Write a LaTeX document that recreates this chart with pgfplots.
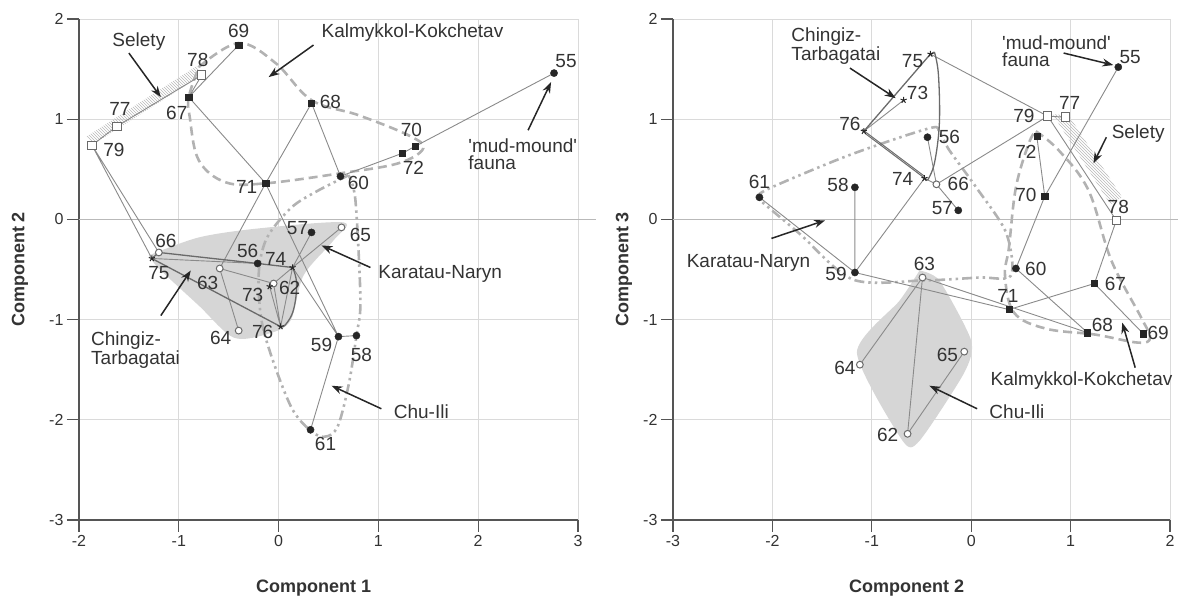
\documentclass[border=0pt]{standalone}
\usepackage{pgfplots}
\pgfplotsset{compat=1.18}
\usepackage{fontspec}
\setmainfont{Liberation Sans}
\usetikzlibrary{arrows.meta,patterns}

\definecolor{txt}{HTML}{333333}
\definecolor{ln}{HTML}{8A8A8A}
\definecolor{grd}{HTML}{DADADA}
\definecolor{hullc}{HTML}{B2B2B2}
\definecolor{fillg}{HTML}{D6D6D6}
\definecolor{dk}{HTML}{6A6A6A}
\definecolor{axc}{HTML}{555555}

\pgfplotsset{
  base/.style={
    scale only axis, height=501pt,
    ymin=-3, ymax=2, ytick={-3,-2,-1,0,1,2},
    axis x line*=bottom, axis y line*=left,
    axis line style={axc, line width=1.5pt},
    tick style={axc, line width=1.2pt},
    tick align=outside, major tick length=12pt,
    grid=major, major grid style={grd, line width=0.8pt},
    tick label style={font=\fontsize{16}{16}\selectfont, text=txt},
    /pgf/number format/assume math mode=true,
    every axis x label/.style={at={(axis description cs:0.47,0)}, anchor=center, yshift=-68pt,
       font=\bfseries\fontsize{18}{18}\selectfont, text=txt},
    clip=false,
  },
  seg/.style={ln, line width=0.9pt, mark=none, unbounded coords=jump},
  dkh/.style={dk, line width=1.3pt, mark=none},
  kal/.style={hullc, line width=2.6pt, dash pattern=on 9pt off 5pt, mark=none, smooth, tension=0.6},
  dd/.style={hullc, line width=2.6pt, dash pattern=on 10pt off 4pt on 2.5pt off 4pt on 2.5pt off 4pt, mark=none, smooth, tension=0.5},
  fc/.style={only marks, mark=*, mark size=3.6pt, mark options={fill=black!85, draw=black!85}},
  oc/.style={only marks, mark=*, mark size=3.4pt, mark options={fill=white, draw=dk, line width=1pt}},
  fs/.style={only marks, mark=square*, mark size=3.1pt, mark options={fill=black!85, draw=black!85}},
  os/.style={only marks, mark=square*, mark size=4.2pt, mark options={fill=white, draw=dk, line width=1pt}},
  st/.style={only marks, mark=star, mark size=3.2pt, mark options={draw=black!85, line width=1pt}},
}
\tikzset{
  lb/.style={font=\fontsize{19}{19}\selectfont, text=txt, inner sep=0pt},
  an/.style={font=\fontsize{19}{17}\selectfont, text=txt, inner sep=0pt, align=left},
  ar/.style={draw=black!85, line width=1.5pt, -{Stealth[length=11pt,width=8pt]}},
}
\newcommand{\q}{\textquotesingle}

\begin{document}
\begin{tikzpicture}
\useasboundingbox (0,0) rectangle (1179pt,601pt);

% ================= LEFT PANEL =================
\begin{axis}[base, at={(79pt,81pt)}, anchor=south west, width=499pt,
  xmin=-2, xmax=3, xtick={-2,-1,0,1,2,3},
  xlabel={Component 1}, ylabel={Component 2},
  every axis y label/.style={at={([xshift=-59pt]axis description cs:0,0.5)}, rotate=90, anchor=center,
     font=\bfseries\fontsize{18}{18}\selectfont, text=txt}]

\draw[color=grd!85!black, line width=1.1pt] (axis cs:-2,0) -- (axis cs:3.18,0);

% grey filled group
\addplot[fill=fillg, draw=none, smooth, tension=0.5] coordinates {
(-1.30,-0.36) (-0.80,-0.18) (-0.20,-0.09) (0.65,-0.03) (0.55,-0.21) (0.25,-0.56)
(0.12,-1.01) (-0.10,-1.14) (-0.45,-1.18) (-0.80,-0.86) (-1.20,-0.49) (-1.30,-0.36)};

% Selety hatch
\addplot[pattern=north west lines, pattern color=gray!55, draw=none] coordinates {
(-1.87,0.74) (-0.77,1.44) (-0.82,1.53) (-1.92,0.83) (-1.87,0.74)};

% Kalmykkol dashed hull
\addplot[kal] coordinates {
(-0.80,1.52) (-0.40,1.76) (-0.03,1.56) (0.33,1.19) (0.80,1.04) (1.30,0.84) (1.45,0.71)
(1.20,0.56) (0.62,0.46) (-0.13,0.36) (-0.53,0.37) (-0.80,0.59) (-0.89,1.02) (-0.90,1.22) (-0.80,1.52)};

% Chu-Ili dash-dot hull
\addplot[dd] coordinates {
(0.70,0.44) (0.40,0.29) (0.13,0.12) (-0.12,-0.19) (-0.20,-0.56) (-0.15,-1.11) (0.13,-1.88)
(0.40,-2.16) (0.58,-2.09) (0.70,-1.66) (0.78,-1.16) (0.82,-0.81) (0.77,0.19) (0.70,0.44)};

% connecting lines
\addplot[seg] coordinates {
(-1.87,0.74) (-1.62,0.93) (-0.77,1.44) (-0.90,1.22) (-0.40,1.74) (nan,nan)
(-0.90,1.22) (-0.13,0.36) (0.33,1.16) (0.62,0.43) (1.24,0.66) (1.37,0.73) (2.76,1.46) (nan,nan)
(-0.59,-0.49) (-0.13,0.36) (0.60,-1.17) (0.78,-1.16) (nan,nan)
(0.32,-2.10) (0.60,-1.17) (0.14,-0.48) (0.33,-0.13) (nan,nan)
(0.14,-0.48) (0.63,-0.08) (nan,nan)
(-1.20,-0.33) (-1.87,0.74) (-1.27,-0.39) (-0.21,-0.44) (nan,nan)
(-0.40,-1.11) (-0.59,-0.49) (-0.05,-0.64) (0.14,-0.48) (0.02,-1.07) (-0.09,-0.67) (nan,nan)
(-0.05,-0.64) (0.02,-1.07)};

% dark Chingiz hull
\addplot[dkh] coordinates {(-1.27,-0.39) (-1.20,-0.33) (-0.21,-0.44) (0.14,-0.48)};
\addplot[dkh, smooth, tension=0.7] coordinates {(0.14,-0.48) (0.18,-0.64) (0.15,-0.90) (0.07,-1.05) (0.02,-1.07)};
\addplot[dkh] coordinates {(0.02,-1.07) (-1.27,-0.39)};

% markers
\addplot[fc] coordinates {(2.76,1.46) (-0.21,-0.44) (0.33,-0.13) (0.78,-1.16) (0.60,-1.17) (0.62,0.43) (0.32,-2.10)};
\addplot[oc] coordinates {(-0.05,-0.64) (-0.59,-0.49) (-0.40,-1.11) (0.63,-0.08) (-1.20,-0.33)};
\addplot[fs] coordinates {(-0.90,1.22) (0.33,1.16) (-0.40,1.74) (1.37,0.73) (-0.13,0.36) (1.24,0.66)};
\addplot[st] coordinates {(-0.09,-0.67) (0.14,-0.48) (-1.27,-0.39) (0.02,-1.07)};
\addplot[os] coordinates {(-1.62,0.93) (-0.77,1.44) (-1.87,0.74)};

% point labels
\node[lb] at (axis cs:2.88,1.58) {55};
\node[lb] at (axis cs:-0.40,1.88) {69};
\node[lb] at (axis cs:-0.81,1.59) {78};
\node[lb] at (axis cs:-1.59,1.10) {77};
\node[lb] at (axis cs:-1.65,0.69) {79};
\node[lb] at (axis cs:-1.02,1.06) {67};
\node[lb] at (axis cs:0.52,1.17) {68};
\node[lb] at (axis cs:-0.32,0.32) {71};
\node[lb] at (axis cs:0.80,0.36) {60};
\node[lb] at (axis cs:1.33,0.89) {70};
\node[lb] at (axis cs:1.35,0.51) {72};
\node[lb] at (axis cs:0.19,-0.09) {57};
\node[lb] at (axis cs:0.82,-0.16) {65};
\node[lb] at (axis cs:-1.13,-0.22) {66};
\node[lb] at (axis cs:-1.20,-0.54) {75};
\node[lb] at (axis cs:-0.31,-0.32) {56};
\node[lb] at (axis cs:-0.03,-0.39) {74};
\node[lb] at (axis cs:-0.71,-0.63) {63};
\node[lb] at (axis cs:-0.26,-0.75) {73};
\node[lb] at (axis cs:0.11,-0.68) {62};
\node[lb] at (axis cs:-0.58,-1.18) {64};
\node[lb] at (axis cs:-0.16,-1.12) {76};
\node[lb] at (axis cs:0.43,-1.25) {59};
\node[lb] at (axis cs:0.83,-1.35) {58};
\node[lb] at (axis cs:0.47,-2.24) {61};

% annotations
\node[an] at (axis cs:-1.40,1.77) {Selety};
\draw[ar] (axis cs:-1.50,1.66) -- (axis cs:-1.18,1.22);
\node[an, anchor=west] at (axis cs:0.43,1.86) {Kalmykkol-Kokchetav};
\draw[ar] (axis cs:0.35,1.74) -- (axis cs:-0.10,1.42);
\node[an, anchor=north west] at (axis cs:1.90,0.81) {\q mud-mound\q\\fauna};
\draw[ar] (axis cs:2.50,0.89) -- (axis cs:2.73,1.37);
\node[an] at (axis cs:1.62,-0.54) {Karatau-Naryn};
\draw[ar] (axis cs:0.92,-0.48) -- (axis cs:0.43,-0.26);
\node[an] at (axis cs:1.43,-1.92) {Chu-Ili};
\draw[ar] (axis cs:1.03,-1.89) -- (axis cs:0.53,-1.66);
\node[an, anchor=north west] at (axis cs:-1.88,-1.12) {Chingiz-\\Tarbagatai};
\draw[ar] (axis cs:-1.18,-0.96) -- (axis cs:-0.88,-0.51);
\end{axis}

% ================= RIGHT PANEL =================
\begin{axis}[base, at={(673pt,81pt)}, anchor=south west, width=497pt,
  xmin=-3, xmax=2, xtick={-3,-2,-1,0,1,2},
  xlabel={Component 2}, ylabel={Component 3},
  every axis y label/.style={at={([xshift=-49pt]axis description cs:0,0.5)}, rotate=90, anchor=center,
     font=\bfseries\fontsize{18}{18}\selectfont, text=txt}]

\draw[color=grd!85!black, line width=1.1pt] (axis cs:-3,0) -- (axis cs:2.08,0);

% grey filled group (Chu-Ili)
\addplot[fill=fillg, draw=none, smooth, tension=0.4] coordinates {
(-0.52,-0.51) (-0.32,-0.61) (0.00,-1.21) (-0.07,-1.53) (-0.52,-2.21) (-0.69,-2.21)
(-1.15,-1.33) (-0.72,-0.81) (-0.52,-0.51)};

% Selety hatch
\addplot[pattern=north west lines, pattern color=gray!55, draw=none] coordinates {
(0.82,1.05) (0.98,1.04) (1.52,0.22) (1.40,0.15) (0.82,1.05)};

% Kalmykkol dashed hull
\addplot[kal] coordinates {
(0.65,0.88) (0.88,0.69) (1.18,0.29) (1.41,-0.41) (1.71,-0.98) (1.80,-1.18) (1.68,-1.23)
(1.25,-1.15) (0.75,-1.09) (0.43,-0.93) (0.34,-0.56) (0.38,-0.28) (0.45,0.32) (0.58,0.76) (0.65,0.88)};

% Karatau-Naryn dash-dot hull
\addplot[dd] coordinates {
(-2.16,0.22) (-2.03,0.31) (-1.23,0.64) (-0.42,0.91) (-0.32,0.87) (-0.22,0.69) (0.05,0.32)
(0.35,-0.13) (0.40,-0.56) (0.08,-0.58) (-0.49,-0.61) (-1.19,-0.60) (-1.73,-0.14) (-2.16,0.22)};

% connecting lines
\addplot[seg] coordinates {
(-0.41,1.65) (0.77,1.03) (0.95,1.02) (nan,nan)
(0.77,1.03) (1.46,-0.01) (1.24,-0.64) (1.73,-1.14) (nan,nan)
(0.77,1.03) (-0.35,0.35) (-0.47,0.41) (nan,nan)
(-0.44,0.82) (-0.35,0.35) (-0.13,0.09) (nan,nan)
(1.48,1.52) (0.74,0.23) (0.66,0.83) (nan,nan)
(0.74,0.23) (0.45,-0.49) (1.17,-1.13) (nan,nan)
(0.38,-0.90) (1.24,-0.64) (nan,nan)
(-0.49,-0.58) (1.17,-1.13) (nan,nan)
(-1.17,-0.53) (0.38,-0.90) (nan,nan)
(-1.12,-1.45) (-0.49,-0.58) (-0.64,-2.14) (-0.07,-1.32) (nan,nan)
(-2.13,0.22) (-1.17,-0.53) (-1.17,0.32) (nan,nan)
(-1.17,-0.53) (-0.47,0.41) (nan,nan)
(-1.08,0.88) (-0.68,1.19)};

% dark Chingiz hull
\addplot[dkh] coordinates {(-1.08,0.88) (-0.41,1.65) (-0.37,1.67)};
\addplot[dkh, smooth, tension=0.6] coordinates {(-0.37,1.67) (-0.33,1.45) (-0.32,0.96) (-0.37,0.56) (-0.44,0.39)};
\addplot[dkh, line width=1pt] coordinates {(-0.44,0.39) (-1.07,0.86)};
\addplot[dkh, line width=1pt] coordinates {(-0.47,0.43) (-1.10,0.90)};

% markers
\addplot[fc] coordinates {(1.48,1.52) (-0.44,0.82) (-0.13,0.09) (-1.17,0.32) (-1.17,-0.53) (0.45,-0.49) (-2.13,0.22)};
\addplot[oc] coordinates {(-0.64,-2.14) (-0.49,-0.58) (-1.12,-1.45) (-0.07,-1.32) (-0.35,0.35)};
\addplot[fs] coordinates {(1.24,-0.64) (1.17,-1.13) (1.73,-1.14) (0.74,0.23) (0.38,-0.90) (0.66,0.83)};
\addplot[st] coordinates {(-0.68,1.19) (-0.47,0.41) (-0.41,1.65) (-1.08,0.88)};
\addplot[os] coordinates {(0.95,1.02) (1.46,-0.01) (0.77,1.03)};

% point labels
\node[lb] at (axis cs:-0.59,1.58) {75};
\node[lb] at (axis cs:-0.54,1.26) {73};
\node[lb] at (axis cs:-1.22,0.95) {76};
\node[lb] at (axis cs:-0.69,0.40) {74};
\node[lb] at (axis cs:-2.13,0.37) {61};
\node[lb] at (axis cs:-1.34,0.34) {58};
\node[lb] at (axis cs:-0.22,0.82) {56};
\node[lb] at (axis cs:-0.13,0.35) {66};
\node[lb] at (axis cs:-0.29,0.11) {57};
\node[lb] at (axis cs:1.60,1.62) {55};
\node[lb] at (axis cs:0.99,1.16) {77};
\node[lb] at (axis cs:0.53,1.03) {79};
\node[lb] at (axis cs:0.55,0.67) {72};
\node[lb] at (axis cs:0.55,0.24) {70};
\node[lb] at (axis cs:1.48,0.12) {78};
\node[lb] at (axis cs:-1.36,-0.54) {59};
\node[lb] at (axis cs:-0.47,-0.44) {63};
\node[lb] at (axis cs:-1.27,-1.48) {64};
\node[lb] at (axis cs:-0.84,-2.15) {62};
\node[lb] at (axis cs:0.65,-0.49) {60};
\node[lb] at (axis cs:1.45,-0.64) {67};
\node[lb] at (axis cs:0.37,-0.76) {71};
\node[lb] at (axis cs:1.32,-1.05) {68};
\node[lb] at (axis cs:1.88,-1.13) {69};
\node[lb] at (axis cs:-0.24,-1.35) {65};

% annotations
\node[an, anchor=north west] at (axis cs:-1.81,1.91) {Chingiz-\\Tarbagatai};
\draw[ar] (axis cs:-1.22,1.51) -- (axis cs:-0.76,1.21);
\node[an, anchor=north west] at (axis cs:0.31,1.83) {\q mud-mound\q\\fauna};
\draw[ar] (axis cs:0.93,1.66) -- (axis cs:1.43,1.54);
\node[an] at (axis cs:1.68,0.86) {Selety};
\draw[ar] (axis cs:1.36,0.82) -- (axis cs:1.23,0.56);
\node[an] at (axis cs:-2.24,-0.43) {Karatau-Naryn};
\draw[ar] (axis cs:-2.01,-0.19) -- (axis cs:-1.47,-0.01);
\node[an] at (axis cs:1.11,-1.61) {Kalmykkol-Kokchetav};
\draw[ar] (axis cs:1.65,-1.48) -- (axis cs:1.52,-1.03);
\node[an] at (axis cs:0.46,-1.92) {Chu-Ili};
\draw[ar] (axis cs:0.06,-1.89) -- (axis cs:-0.42,-1.66);
\end{axis}
\end{tikzpicture}
\end{document}
